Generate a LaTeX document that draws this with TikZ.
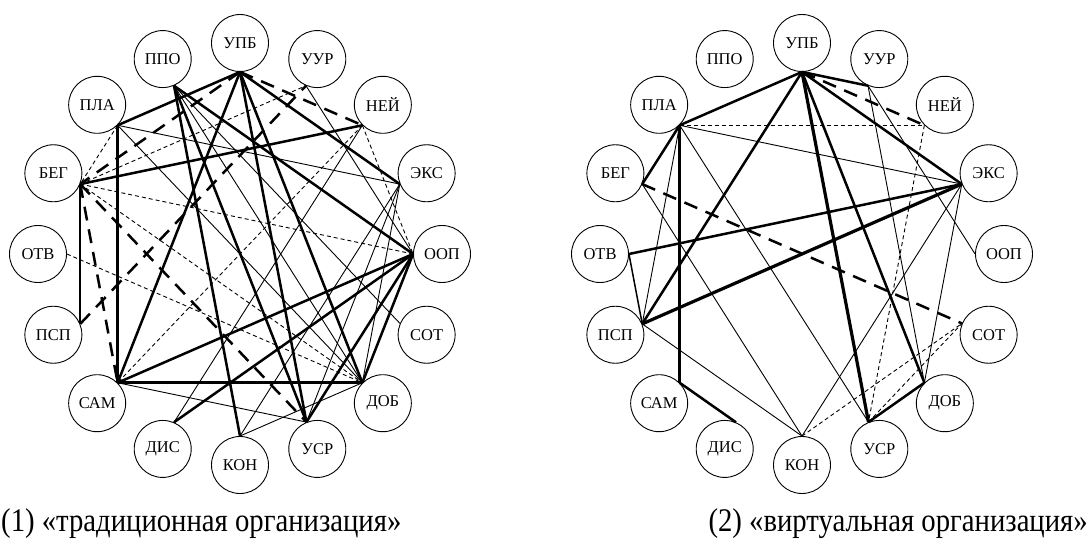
\documentclass[tikz,border=0pt]{standalone}
\usepackage{fontspec}
\setmainfont{Liberation Serif}
\newfontfamily\capfont[FakeStretch=0.87]{Liberation Serif}

\tikzset{
  vert/.style={draw, circle, minimum size=57pt, inner sep=0pt, line width=0.9pt,
    font=\fontsize{16.5}{16.5}\selectfont},
  thn/.style={line width=0.9pt},
  med/.style={line width=1.5pt},
  thk/.style={line width=2.5pt},
  vthk/.style={line width=3.2pt},
  dsh/.style={line width=0.9pt, dash pattern=on 4pt off 3pt},
  ldsh/.style={line width=2.5pt, dash pattern=on 14pt off 9pt},
  capt/.style={inner sep=0pt, font=\capfont\fontsize{33}{36}\selectfont}
}

% узлы графа: префикс, центр x, центр y
\newcommand\grafnodes[3]{%
  \foreach \nm/\lb [count=\i from 0] in {upb/УПБ, uur/УУР, nei/НЕЙ, eks/ЭКС,
      oop/ООП, sot/СОТ, dob/ДОБ, usr/УСР, kon/КОН, dis/ДИС, sam/САМ,
      psp/ПСП, otv/ОТВ, beg/БЕГ, pla/ПЛА, ppo/ППО} {
    \pgfmathsetmacro\ang{90-22.5*\i}
    \pgfmathsetmacro\opp{\ang+180}
    \node[vert] (#1\nm) at ({#2+202*cos(\ang)},{#3-211*sin(\ang)}) {\lb};
    \coordinate (#1\nm-a) at (#1\nm.\opp);
  }%
}

\begin{document}
\begin{tikzpicture}[x=1pt, y=-1pt]
  \useasboundingbox (0,0) rectangle (1090,551);

  % (1) традиционная организация
  \grafnodes{L}{240}{254}
  \foreach \a/\b in {upb/pla, upb/sam, upb/eks, upb/dob, upb/usr, ppo/kon,
      ppo/usr, ppo/oop, pla/sam, beg/nei, sam/dob, sam/oop, dis/oop,
      usr/oop, dob/oop}
    \draw[thk] (L\a-a) -- (L\b-a);
  \draw[med] (Lbeg-a) -- (Lpsp-a);
  \foreach \a/\b in {upb/beg, upb/nei, psp/uur, beg/sam, beg/usr}
    \draw[ldsh] (L\a-a) -- (L\b-a);
  \foreach \a/\b in {pla/eks, pla/dob, dis/nei, kon/eks, kon/dob, usr/eks,
      dob/eks, sam/usr, uur/oop, ppo/dob, ppo/sot}
    \draw[thn] (L\a-a) -- (L\b-a);
  \foreach \a/\b in {pla/beg, beg/uur, beg/oop, beg/dob, otv/dob, nei/oop,
      nei/sam}
    \draw[dsh] (L\a-a) -- (L\b-a);

  % (2) виртуальная организация
  \grafnodes{R}{802}{254}
  \foreach \a/\b in {upb/pla, upb/psp, upb/dob, upb/eks, upb/uur, pla/beg,
      pla/sam, otv/eks, sam/dis, usr/dob}
    \draw[thk] (R\a-a) -- (R\b-a);
  \foreach \a/\b in {upb/usr, psp/eks}
    \draw[vthk] (R\a-a) -- (R\b-a);
  \draw[med] (Rotv-a) -- (Rpsp-a);
  \foreach \a/\b in {upb/nei, beg/sot}
    \draw[ldsh] (R\a-a) -- (R\b-a);
  \foreach \a/\b in {pla/eks, pla/psp, pla/usr, beg/kon, psp/kon, kon/eks,
      eks/dob, uur/dob, uur/oop}
    \draw[thn] (R\a-a) -- (R\b-a);
  \foreach \a/\b in {pla/nei, nei/usr, kon/sot, usr/sot}
    \draw[dsh] (R\a-a) -- (R\b-a);

  % подписи
  \node[capt, anchor=base west] (cap1) at (1,531) {(1) «традиционная организация»};
  \node[capt, anchor=base east] (cap2) at (1088,531) {(2) «виртуальная организация»};
\end{tikzpicture}
\end{document}
